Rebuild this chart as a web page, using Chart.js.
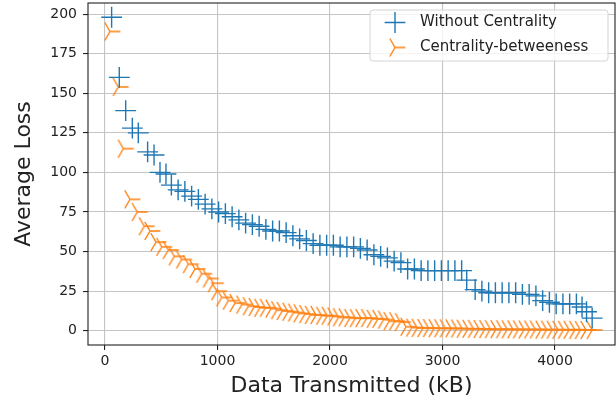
<!DOCTYPE html>
<html lang="en"><head>
<meta charset="utf-8"/>
<title>Average Loss vs Data Transmitted</title>
<script src="https://cdn.jsdelivr.net/npm/chart.js"></script>
<style>
    html, body { margin: 0; padding: 0; background: #fff; }
    #wrap { width: 616px; height: 408px; }
</style>
</head>
<body>
<div id="wrap"><canvas id="lossChart" width="616" height="408"></canvas></div>
<script>
        // data
        const withoutX = [59, 127, 184, 243, 296, 379, 436, 489, 542, 590, 650, 710, 770, 830, 890, 950, 1010, 1070, 1130, 1190,
            1250, 1310, 1370, 1430, 1490, 1550, 1610, 1670, 1730, 1790, 1850, 1910, 1970, 2030, 2090, 2150, 2210, 2270, 2330, 2390,
            2450, 2510, 2570, 2630, 2690, 2750, 2810, 2870, 2930, 2990, 3050, 3110, 3170, 3215, 3290, 3350, 3410, 3470, 3530, 3590,
            3650, 3710, 3770, 3830, 3890, 3950, 4010, 4070, 4130, 4190, 4240, 4280, 4330];
        const withoutY = [198, 160, 139, 128, 125, 113, 111, 100, 99, 92, 89, 88, 85, 83, 80, 77, 75, 74, 72, 70,
            68, 67, 66, 64, 63, 63, 62, 60, 58, 57, 55, 54, 54, 54, 53, 53, 53, 52, 51, 48,
            47, 46, 44, 43, 39, 39, 38, 38, 38, 38, 38, 38, 38, 32, 26, 25, 24, 24, 24, 24,
            24, 23, 23, 22, 19, 18, 17, 17, 17, 17, 15, 12, 8];
        const betweenX = [44, 118, 163, 222, 287, 349, 400, 453, 504, 563, 616, 681, 741, 800, 859, 919, 963, 993, 1037, 1096,
            1156, 1215, 1274, 1325, 1375, 1425, 1475, 1525, 1575, 1625, 1675, 1725, 1775, 1825, 1875, 1925, 1975, 2025, 2075, 2125,
            2175, 2225, 2275, 2325, 2375, 2425, 2475, 2525, 2575, 2625, 2675, 2725, 2775, 2825, 2875, 2925, 2975, 3025, 3075, 3125,
            3175, 3225, 3275, 3325, 3375, 3425, 3475, 3525, 3575, 3625, 3675, 3725, 3775, 3825, 3875, 3925, 3975, 4025, 4075, 4125,
            4175, 4225, 4275, 4330];
        const betweenY = [189, 154, 115, 83, 75, 66, 63, 56, 53, 51, 47, 45, 42, 39, 36, 33, 30, 25, 21, 19,
            17.5, 16.5, 15.5, 15, 14.5, 14.5, 14, 13, 12.5, 12, 11.5, 11, 10.5, 10, 10, 9.5, 9.5, 9, 8.5, 8.5,
            8, 8, 8, 8, 7.5, 7.5, 7, 6, 6, 5.5, 2.5, 2, 1.8, 1.7, 1.7, 1.6, 1.6, 1.5, 1.5, 1.4,
            1.3, 1.2, 1.2, 1.1, 1.1, 1, 1, 1, 0.9, 0.9, 0.9, 0.8, 0.8, 0.8, 0.7, 0.7, 0.7, 0.6, 0.6, 0.6,
            0.6, 0.5, 0.5, 0.5];
        const seriesLabels = ['Without Centrality', 'Centrality-betweeness'];
        const xTicks = [0, 1000, 2000, 3000, 4000];
        const yTicks = [0, 25, 50, 75, 100, 125, 150, 175, 200];

        const BLUE = '#1f77b4';
        const ORANGE = '#ff7f0e';
        const FONT = "'DejaVu Sans', sans-serif";

        // matplotlib style "4" marker (tri_right) as an image point style
        function makeTri(color) {
            const c = document.createElement('canvas');
            c.width = 26; c.height = 26;
            const g = c.getContext('2d');
            const r = 10.4;
            g.strokeStyle = color;
            g.lineWidth = 1.4;
            g.beginPath();
            for (const a of [0, 120, 240]) {
                const rad = a * Math.PI / 180;
                g.moveTo(13, 13);
                g.lineTo(13 + r * Math.cos(rad), 13 + r * Math.sin(rad));
            }
            g.stroke();
            return c;
        }
        const triMarker = makeTri(ORANGE);

        const framePlugin = {
            id: 'frame',
            afterDraw(chart) {
                const { ctx, chartArea: a } = chart;
                ctx.save();
                ctx.strokeStyle = '#222';
                ctx.lineWidth = 1.1;
                ctx.strokeRect(a.left, a.top, a.right - a.left, a.bottom - a.top);

                // legend box, top right
                const bw = 238, bh = 51;
                const bx = a.right - bw - 7, by = a.top + 7;
                ctx.beginPath();
                ctx.roundRect(bx, by, bw, bh, 3);
                ctx.fillStyle = 'rgba(255,255,255,0.8)';
                ctx.fill();
                ctx.strokeStyle = '#d4d4d4';
                ctx.lineWidth = 1;
                ctx.stroke();

                const mx = bx + 25, tx = bx + 50;
                const rows = [by + 12.5, by + 37.5];
                // cross marker
                ctx.strokeStyle = BLUE;
                ctx.lineWidth = 1.4;
                ctx.beginPath();
                ctx.moveTo(mx - 10.4, rows[0]); ctx.lineTo(mx + 10.4, rows[0]);
                ctx.moveTo(mx, rows[0] - 10.4); ctx.lineTo(mx, rows[0] + 10.4);
                ctx.stroke();
                ctx.drawImage(triMarker, mx - 13, rows[1] - 13);

                ctx.fillStyle = '#222';
                ctx.font = '15px ' + FONT;
                ctx.textBaseline = 'middle';
                ctx.textAlign = 'left';
                ctx.fillText(seriesLabels[0], tx, rows[0]);
                ctx.fillText(seriesLabels[1], tx, rows[1]);
                ctx.restore();
            }
        };

        const toPoints = (xs, ys) => xs.map((x, i) => ({ x: x, y: ys[i] }));

        const ctx = document.getElementById('lossChart').getContext('2d');
        new Chart(ctx, {
            type: 'scatter',
            data: {
                datasets: [{
                    label: seriesLabels[0],
                    data: toPoints(withoutX, withoutY),
                    pointStyle: 'cross',
                    pointRadius: 10.4,
                    pointBorderWidth: 1.4,
                    borderColor: BLUE,
                    backgroundColor: BLUE,
                    showLine: false
                }, {
                    label: seriesLabels[1],
                    data: toPoints(betweenX, betweenY),
                    pointStyle: triMarker,
                    pointRadius: 10.4,
                    borderColor: ORANGE,
                    backgroundColor: ORANGE,
                    showLine: false
                }]
            },
            options: {
                responsive: false,
                animation: false,
                layout: { autoPadding: false, padding: { left: 0, right: 1, top: 3, bottom: 0 } },
                plugins: {
                    legend: { display: false },
                    tooltip: { enabled: false }
                },
                scales: {
                    x: {
                        type: 'linear',
                        min: -151,
                        max: 4533,
                        afterBuildTicks: s => { s.ticks = xTicks.map(v => ({ value: v })); },
                        afterFit: s => { s.height = 63; s.paddingLeft = 0; s.paddingRight = 0; },
                        grid: { color: '#c4c4c4', lineWidth: 1.1, tickColor: '#222', tickLength: 5 },
                        border: { display: false },
                        ticks: {
                            color: '#222', font: { family: FONT, size: 14 }, padding: 3, maxRotation: 0,
                            callback: v => String(v)
                        },
                        title: {
                            display: true,
                            text: 'Data Transmitted (kB)',
                            color: '#222',
                            font: { family: FONT, size: 22 },
                            padding: { top: 0, bottom: 9 }
                        }
                    },
                    y: {
                        type: 'linear',
                        min: -9,
                        max: 207,
                        afterBuildTicks: s => { s.ticks = yTicks.map(v => ({ value: v })); },
                        afterFit: s => { s.width = 88; s.paddingTop = 0; s.paddingBottom = 0; },
                        grid: { color: '#c4c4c4', lineWidth: 1.1, tickColor: '#222', tickLength: 5 },
                        border: { display: false },
                        ticks: { color: '#222', font: { family: FONT, size: 14 }, padding: 6, callback: v => String(v) },
                        title: {
                            display: true,
                            text: 'Average Loss',
                            color: '#222',
                            font: { family: FONT, size: 22 },
                            padding: { top: 11, bottom: 0 }
                        }
                    }
                }
            },
            plugins: [framePlugin]
        });
    </script>
</body></html>
